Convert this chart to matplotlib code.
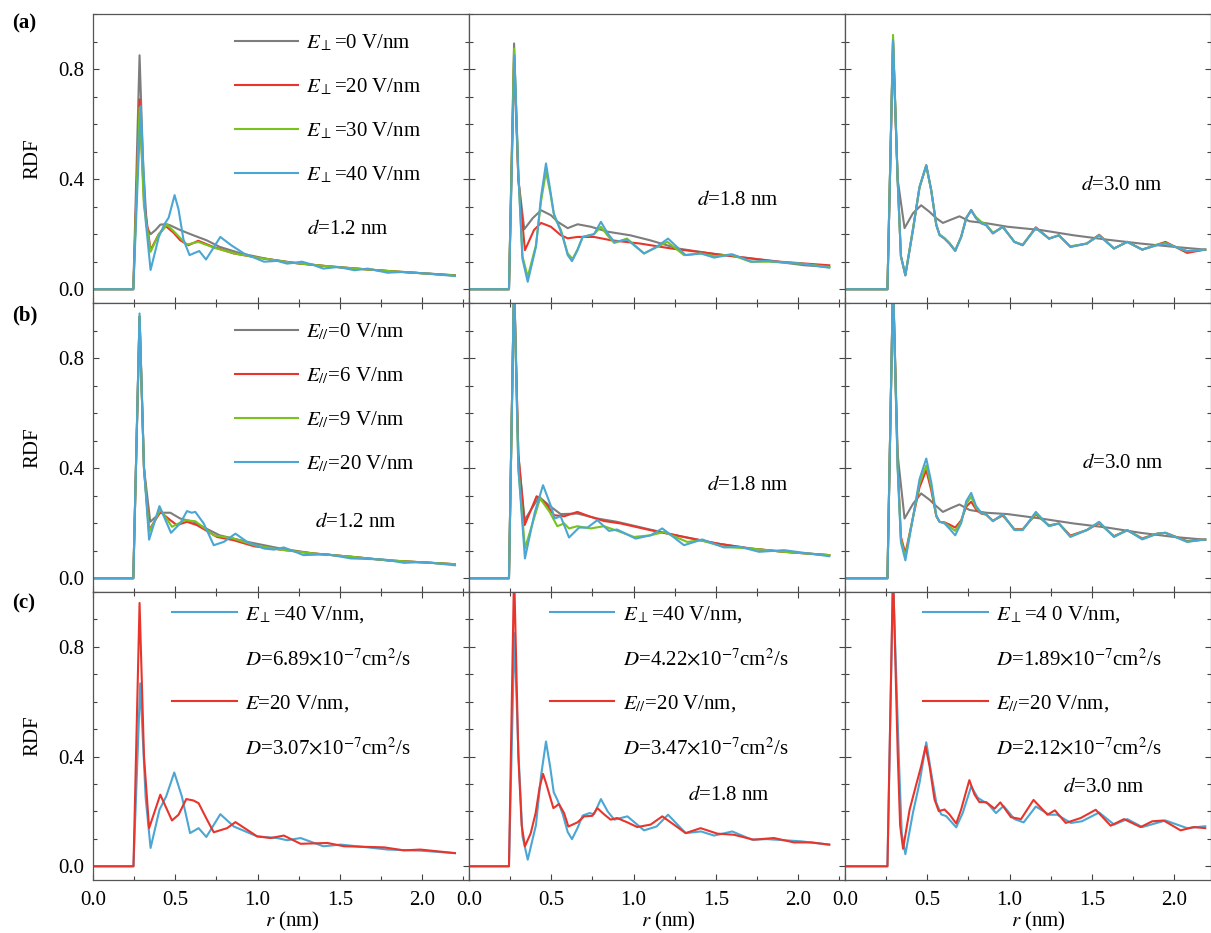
"""
RDF curves of confined water under perpendicular / parallel fields,
three slit widths (d = 1.2, 1.8, 3.0 nm).
"""

import matplotlib
matplotlib.use("Agg")
import matplotlib.pyplot as plt
from matplotlib.lines import Line2D
from matplotlib.ticker import MultipleLocator

plt.rcParams['font.family'] = ['Liberation Serif', 'DejaVu Serif']
plt.rcParams['mathtext.fontset'] = 'stix'
plt.rcParams['font.size'] = 15

# ══════════════════════════════════════════════════════════════
# DATA
# ══════════════════════════════════════════════════════════════

# ---- row (a): E_perp, d = 1.2 nm
r_a1_0 = [0, 0.245, 0.283, 0.305, 0.327, 0.35, 0.38, 0.41, 0.45, 0.47, 0.53, 0.61, 0.69, 0.77, 0.9, 1.06, 1.26, 1.47, 1.67, 1.87, 2.2]
g_a1_0 = [0, 0, 0.85, 0.45, 0.227, 0.20, 0.215, 0.235, 0.236, 0.232, 0.215, 0.196, 0.178, 0.154, 0.13, 0.11, 0.093, 0.081, 0.072, 0.063, 0.051]
r_a1_20 = [0, 0.245, 0.283, 0.31, 0.35, 0.40, 0.443, 0.49, 0.53, 0.58, 0.64, 0.73, 0.856, 1.0, 1.2, 1.4, 1.6, 1.8, 2.0, 2.2]
g_a1_20 = [0, 0, 0.69, 0.32, 0.142, 0.20, 0.229, 0.205, 0.178, 0.16, 0.176, 0.154, 0.13, 0.115, 0.097, 0.085, 0.075, 0.066, 0.058, 0.05]
r_a1_30 = [0, 0.245, 0.283, 0.31, 0.35, 0.40, 0.45, 0.50, 0.57, 0.64, 0.74, 0.86, 1.0, 1.2, 1.4, 1.6, 1.8, 2.0, 2.2]
g_a1_30 = [0, 0, 0.66, 0.30, 0.136, 0.20, 0.235, 0.205, 0.162, 0.172, 0.15, 0.13, 0.115, 0.097, 0.085, 0.075, 0.066, 0.058, 0.05]
r_a1_40 = [0, 0.245, 0.29, 0.32, 0.35, 0.40, 0.433, 0.46, 0.496, 0.52, 0.55, 0.587, 0.646, 0.687, 0.774, 0.84, 0.917, 1.04, 1.12, 1.18, 1.27, 1.33, 1.40, 1.49, 1.59, 1.67, 1.79, 1.89, 2.03, 2.2]
g_a1_40 = [0, 0, 0.665, 0.25, 0.07, 0.19, 0.235, 0.26, 0.342, 0.29, 0.18, 0.124, 0.139, 0.108, 0.19, 0.16, 0.13, 0.10, 0.103, 0.093, 0.10, 0.09, 0.075, 0.081, 0.069, 0.075, 0.06, 0.063, 0.057, 0.048]

# ---- row (a): E_perp, d = 1.8 nm
r_a2_0 = [0, 0.243, 0.274, 0.30, 0.336, 0.387, 0.438, 0.498, 0.539, 0.60, 0.66, 0.741, 0.843, 0.98, 1.10, 1.27, 1.47, 1.63, 1.87, 2.04, 2.19]
g_a2_0 = [0, 0, 0.893, 0.40, 0.218, 0.258, 0.287, 0.269, 0.245, 0.222, 0.236, 0.227, 0.209, 0.196, 0.178, 0.148, 0.13, 0.118, 0.10, 0.087, 0.081]
r_a2_20 = [0, 0.243, 0.274, 0.30, 0.34, 0.395, 0.438, 0.498, 0.559, 0.60, 0.66, 0.76, 0.863, 1.04, 1.23, 1.39, 1.63, 1.89, 2.19]
g_a2_20 = [0, 0, 0.84, 0.40, 0.142, 0.215, 0.241, 0.227, 0.196, 0.185, 0.19, 0.19, 0.178, 0.166, 0.148, 0.136, 0.118, 0.10, 0.087]
r_a2_30 = [0, 0.243, 0.274, 0.30, 0.325, 0.357, 0.407, 0.438, 0.468, 0.494, 0.519, 0.559, 0.60, 0.63, 0.66, 0.691, 0.732, 0.76, 0.802, 0.843, 0.883, 0.96, 1.064, 1.145, 1.206, 1.307, 1.41, 1.49, 1.59, 1.71, 1.83, 2.02, 2.19]
g_a2_30 = [0, 0, 0.875, 0.42, 0.12, 0.045, 0.16, 0.32, 0.427, 0.35, 0.263, 0.215, 0.13, 0.11, 0.145, 0.19, 0.196, 0.20, 0.227, 0.195, 0.168, 0.184, 0.13, 0.154, 0.172, 0.124, 0.13, 0.12, 0.126, 0.10, 0.10, 0.093, 0.081]
r_a2_40 = [0, 0.243, 0.276, 0.30, 0.325, 0.357, 0.407, 0.438, 0.468, 0.494, 0.515, 0.539, 0.57, 0.60, 0.626, 0.66, 0.691, 0.732, 0.76, 0.802, 0.843, 0.883, 0.963, 1.064, 1.14, 1.21, 1.317, 1.41, 1.49, 1.60, 1.72, 1.81, 2.02, 2.19]
g_a2_40 = [0, 0, 0.85, 0.42, 0.11, 0.027, 0.154, 0.336, 0.457, 0.36, 0.276, 0.24, 0.19, 0.124, 0.102, 0.142, 0.19, 0.196, 0.20, 0.245, 0.203, 0.172, 0.18, 0.13, 0.154, 0.184, 0.124, 0.13, 0.115, 0.127, 0.10, 0.103, 0.093, 0.078]

# ---- row (a): E_perp, d = 3.0 nm
r_a3_0 = [0, 0.258, 0.292, 0.32, 0.362, 0.413, 0.463, 0.514, 0.555, 0.595, 0.645, 0.696, 0.757, 0.858, 0.989, 1.19, 1.39, 1.595, 1.797, 1.999, 2.19]
g_a3_0 = [0, 0, 0.90, 0.40, 0.222, 0.276, 0.305, 0.281, 0.258, 0.241, 0.253, 0.265, 0.247, 0.24, 0.227, 0.215, 0.196, 0.18, 0.166, 0.154, 0.144]
r_a3_20 = [0, 0.258, 0.292, 0.32, 0.34, 0.367, 0.413, 0.453, 0.494, 0.524, 0.555, 0.575, 0.605, 0.635, 0.67, 0.706, 0.737, 0.767, 0.797, 0.828, 0.858, 0.899, 0.959, 1.03, 1.08, 1.16, 1.24, 1.30, 1.37, 1.47, 1.545, 1.635, 1.716, 1.807, 1.898, 1.948, 2.08, 2.19]
g_a3_20 = [0, 0, 0.90, 0.40, 0.12, 0.05, 0.215, 0.37, 0.45, 0.36, 0.233, 0.198, 0.184, 0.166, 0.14, 0.19, 0.258, 0.288, 0.258, 0.24, 0.233, 0.203, 0.227, 0.172, 0.16, 0.225, 0.184, 0.196, 0.154, 0.166, 0.198, 0.148, 0.172, 0.144, 0.162, 0.172, 0.132, 0.144]
r_a3_30 = [0, 0.258, 0.292, 0.32, 0.34, 0.367, 0.413, 0.453, 0.494, 0.524, 0.555, 0.575, 0.605, 0.635, 0.67, 0.706, 0.737, 0.767, 0.797, 0.828, 0.858, 0.899, 0.959, 1.03, 1.08, 1.16, 1.24, 1.30, 1.37, 1.47, 1.545, 1.635, 1.716, 1.807, 1.898, 1.948, 2.08, 2.19]
g_a3_30 = [0, 0, 0.924, 0.40, 0.12, 0.053, 0.22, 0.37, 0.448, 0.36, 0.235, 0.198, 0.186, 0.168, 0.141, 0.19, 0.26, 0.285, 0.262, 0.245, 0.236, 0.205, 0.226, 0.172, 0.162, 0.222, 0.184, 0.196, 0.156, 0.166, 0.196, 0.148, 0.172, 0.144, 0.162, 0.168, 0.138, 0.144]
r_a3_40 = [0, 0.258, 0.292, 0.32, 0.34, 0.367, 0.413, 0.453, 0.494, 0.524, 0.555, 0.575, 0.605, 0.635, 0.67, 0.706, 0.737, 0.767, 0.797, 0.828, 0.858, 0.899, 0.959, 1.03, 1.08, 1.16, 1.24, 1.30, 1.37, 1.47, 1.545, 1.635, 1.716, 1.807, 1.898, 1.948, 2.08, 2.19]
g_a3_40 = [0, 0, 0.905, 0.40, 0.12, 0.051, 0.215, 0.372, 0.451, 0.36, 0.233, 0.196, 0.184, 0.166, 0.139, 0.19, 0.258, 0.287, 0.258, 0.24, 0.233, 0.203, 0.227, 0.172, 0.16, 0.223, 0.184, 0.196, 0.154, 0.166, 0.196, 0.148, 0.172, 0.144, 0.16, 0.166, 0.139, 0.144]

# ---- row (b): E_par, d = 1.2 nm
r_b1_0 = [0, 0.245, 0.283, 0.31, 0.348, 0.41, 0.47, 0.53, 0.61, 0.69, 0.77, 0.94, 1.14, 1.34, 1.57, 1.79, 2.2]
g_b1_0 = [0, 0, 0.95, 0.40, 0.205, 0.238, 0.238, 0.217, 0.205, 0.18, 0.156, 0.132, 0.108, 0.09, 0.078, 0.065, 0.051]
r_b1_6 = [0, 0.245, 0.283, 0.31, 0.341, 0.41, 0.47, 0.51, 0.571, 0.632, 0.754, 0.856, 0.98, 1.14, 1.34, 1.57, 1.79, 2.2]
g_b1_6 = [0, 0, 0.95, 0.40, 0.175, 0.241, 0.211, 0.193, 0.205, 0.193, 0.15, 0.138, 0.116, 0.104, 0.09, 0.078, 0.065, 0.051]
r_b1_9 = [0, 0.245, 0.283, 0.31, 0.341, 0.41, 0.48, 0.56, 0.622, 0.734, 0.856, 0.98, 1.14, 1.34, 1.57, 1.79, 2.2]
g_b1_9 = [0, 0, 0.95, 0.40, 0.168, 0.25, 0.187, 0.211, 0.207, 0.156, 0.144, 0.12, 0.104, 0.09, 0.078, 0.065, 0.051]
r_b1_20 = [0, 0.245, 0.283, 0.31, 0.341, 0.404, 0.474, 0.53, 0.571, 0.60, 0.622, 0.673, 0.734, 0.795, 0.866, 0.937, 1.04, 1.10, 1.16, 1.28, 1.425, 1.567, 1.77, 1.89, 2.01, 2.2]
g_b1_20 = [0, 0, 0.962, 0.40, 0.14, 0.262, 0.165, 0.199, 0.244, 0.238, 0.241, 0.199, 0.12, 0.132, 0.162, 0.132, 0.108, 0.104, 0.112, 0.084, 0.087, 0.072, 0.068, 0.056, 0.059, 0.047]

# ---- row (b): E_par, d = 1.8 nm
r_b2_0 = [0, 0.243, 0.274, 0.30, 0.338, 0.426, 0.486, 0.557, 0.659, 0.78, 0.90, 1.10, 1.307, 1.51, 1.71, 1.915, 2.19]
g_b2_0 = [0, 0, 1.08, 0.45, 0.211, 0.296, 0.265, 0.233, 0.235, 0.217, 0.205, 0.177, 0.15, 0.126, 0.108, 0.096, 0.084]
r_b2_6 = [0, 0.243, 0.274, 0.30, 0.338, 0.411, 0.466, 0.517, 0.578, 0.659, 0.74, 0.82, 0.922, 1.10, 1.307, 1.51, 1.71, 1.915, 2.19]
g_b2_6 = [0, 0, 1.08, 0.45, 0.193, 0.298, 0.272, 0.229, 0.225, 0.241, 0.223, 0.208, 0.199, 0.175, 0.15, 0.126, 0.108, 0.096, 0.084]
r_b2_9 = [0, 0.243, 0.274, 0.30, 0.34, 0.432, 0.49, 0.537, 0.578, 0.608, 0.659, 0.74, 0.82, 0.922, 1.003, 1.104, 1.185, 1.327, 1.408, 1.55, 1.71, 1.915, 2.19]
g_b2_9 = [0, 0, 1.08, 0.40, 0.108, 0.29, 0.241, 0.189, 0.199, 0.181, 0.189, 0.181, 0.189, 0.168, 0.15, 0.156, 0.168, 0.132, 0.138, 0.114, 0.108, 0.096, 0.084]
r_b2_20 = [0, 0.243, 0.274, 0.30, 0.34, 0.40, 0.45, 0.50, 0.52, 0.557, 0.608, 0.669, 0.72, 0.78, 0.851, 0.90, 1.013, 1.104, 1.175, 1.307, 1.418, 1.55, 1.65, 1.763, 1.915, 2.19]
g_b2_20 = [0, 0, 1.08, 0.40, 0.072, 0.24, 0.338, 0.259, 0.217, 0.225, 0.148, 0.184, 0.184, 0.211, 0.172, 0.177, 0.144, 0.156, 0.181, 0.12, 0.141, 0.112, 0.114, 0.096, 0.102, 0.08]

# ---- row (b): E_par, d = 3.0 nm
r_b3_0 = [0, 0.258, 0.292, 0.32, 0.362, 0.413, 0.463, 0.514, 0.555, 0.595, 0.645, 0.696, 0.757, 0.858, 0.989, 1.19, 1.39, 1.595, 1.797, 1.999, 2.19]
g_b3_0 = [0, 0, 1.08, 0.45, 0.217, 0.27, 0.308, 0.285, 0.262, 0.241, 0.255, 0.268, 0.248, 0.238, 0.233, 0.217, 0.199, 0.184, 0.165, 0.15, 0.14]
r_b3_6 = [0, 0.258, 0.292, 0.32, 0.34, 0.367, 0.413, 0.453, 0.494, 0.524, 0.555, 0.575, 0.605, 0.635, 0.67, 0.706, 0.737, 0.767, 0.797, 0.828, 0.858, 0.899, 0.959, 1.03, 1.08, 1.16, 1.24, 1.30, 1.37, 1.47, 1.545, 1.635, 1.716, 1.807, 1.898, 1.948, 2.08, 2.19]
g_b3_6 = [0, 0, 1.08, 0.42, 0.15, 0.09, 0.22, 0.33, 0.393, 0.32, 0.225, 0.205, 0.203, 0.195, 0.184, 0.21, 0.26, 0.278, 0.25, 0.235, 0.231, 0.209, 0.228, 0.178, 0.178, 0.232, 0.192, 0.199, 0.155, 0.175, 0.2, 0.153, 0.174, 0.145, 0.162, 0.165, 0.135, 0.141]
r_b3_9 = [0, 0.258, 0.292, 0.32, 0.34, 0.367, 0.413, 0.453, 0.494, 0.524, 0.555, 0.575, 0.605, 0.635, 0.67, 0.706, 0.737, 0.767, 0.797, 0.828, 0.858, 0.899, 0.959, 1.03, 1.08, 1.16, 1.24, 1.30, 1.37, 1.47, 1.545, 1.635, 1.716, 1.807, 1.898, 1.948, 2.08, 2.19]
g_b3_9 = [0, 0, 1.08, 0.41, 0.14, 0.078, 0.22, 0.345, 0.41, 0.335, 0.227, 0.205, 0.201, 0.188, 0.172, 0.205, 0.27, 0.296, 0.256, 0.237, 0.232, 0.208, 0.231, 0.176, 0.176, 0.236, 0.19, 0.199, 0.152, 0.175, 0.203, 0.151, 0.175, 0.143, 0.162, 0.165, 0.133, 0.141]
r_b3_20 = [0, 0.258, 0.292, 0.32, 0.34, 0.367, 0.413, 0.453, 0.494, 0.524, 0.555, 0.575, 0.605, 0.635, 0.67, 0.706, 0.737, 0.767, 0.797, 0.828, 0.858, 0.899, 0.959, 1.03, 1.08, 1.16, 1.24, 1.30, 1.37, 1.47, 1.545, 1.635, 1.716, 1.807, 1.898, 1.948, 2.08, 2.19]
g_b3_20 = [0, 0, 1.08, 0.40, 0.13, 0.065, 0.22, 0.36, 0.435, 0.35, 0.228, 0.205, 0.199, 0.18, 0.156, 0.2, 0.28, 0.31, 0.262, 0.238, 0.233, 0.207, 0.233, 0.175, 0.175, 0.241, 0.189, 0.199, 0.15, 0.175, 0.205, 0.15, 0.175, 0.141, 0.162, 0.165, 0.132, 0.141]

# ---- row (c): E_perp = 40 vs E_par = 20
r_c1_perp = [0, 0.246, 0.287, 0.32, 0.35, 0.404, 0.445, 0.494, 0.54, 0.59, 0.642, 0.689, 0.774, 0.856, 0.998, 1.12, 1.18, 1.262, 1.40, 1.506, 1.669, 1.79, 1.99, 2.2]
g_c1_perp = [0, 0, 0.667, 0.25, 0.067, 0.206, 0.255, 0.342, 0.255, 0.121, 0.139, 0.107, 0.19, 0.145, 0.109, 0.103, 0.095, 0.103, 0.073, 0.079, 0.069, 0.061, 0.057, 0.048]
r_c1_par = [0, 0.246, 0.283, 0.31, 0.341, 0.409, 0.48, 0.52, 0.567, 0.61, 0.642, 0.693, 0.734, 0.815, 0.866, 0.937, 0.998, 1.08, 1.16, 1.262, 1.425, 1.526, 1.77, 1.89, 1.99, 2.2]
g_c1_par = [0, 0, 0.96, 0.40, 0.139, 0.261, 0.167, 0.188, 0.245, 0.24, 0.23, 0.17, 0.124, 0.139, 0.161, 0.133, 0.109, 0.103, 0.112, 0.082, 0.085, 0.073, 0.069, 0.058, 0.061, 0.048]

r_c2_perp = [0, 0.243, 0.276, 0.30, 0.325, 0.357, 0.407, 0.438, 0.468, 0.494, 0.515, 0.539, 0.57, 0.60, 0.626, 0.66, 0.691, 0.732, 0.76, 0.802, 0.843, 0.883, 0.963, 1.064, 1.14, 1.21, 1.317, 1.41, 1.49, 1.60, 1.72, 1.81, 2.02, 2.19]
g_c2_perp = [0, 0, 0.85, 0.42, 0.11, 0.024, 0.15, 0.33, 0.455, 0.36, 0.27, 0.24, 0.19, 0.125, 0.099, 0.14, 0.185, 0.194, 0.19, 0.245, 0.2, 0.17, 0.182, 0.131, 0.145, 0.188, 0.121, 0.127, 0.112, 0.127, 0.097, 0.099, 0.091, 0.079]
r_c2_par = [0, 0.243, 0.274, 0.30, 0.32, 0.34, 0.375, 0.405, 0.43, 0.45, 0.47, 0.486, 0.513, 0.547, 0.578, 0.604, 0.659, 0.70, 0.75, 0.78, 0.82, 0.861, 0.90, 0.963, 1.023, 1.104, 1.175, 1.25, 1.317, 1.408, 1.51, 1.61, 1.73, 1.854, 1.976, 2.08, 2.19]
g_c2_par = [0, 0, 1.08, 0.40, 0.15, 0.073, 0.12, 0.194, 0.29, 0.337, 0.30, 0.267, 0.212, 0.227, 0.194, 0.145, 0.16, 0.182, 0.184, 0.212, 0.19, 0.17, 0.176, 0.16, 0.143, 0.152, 0.182, 0.15, 0.121, 0.139, 0.119, 0.115, 0.097, 0.103, 0.087, 0.087, 0.079]

r_c3_perp = [0, 0.258, 0.292, 0.33, 0.345, 0.367, 0.413, 0.453, 0.494, 0.524, 0.555, 0.585, 0.615, 0.676, 0.716, 0.767, 0.807, 0.838, 0.868, 0.918, 0.964, 1.03, 1.086, 1.16, 1.241, 1.29, 1.373, 1.44, 1.545, 1.636, 1.716, 1.807, 1.948, 2.08, 2.19]
g_c3_perp = [0, 0, 1.05, 0.35, 0.12, 0.044, 0.195, 0.304, 0.452, 0.34, 0.232, 0.189, 0.183, 0.142, 0.195, 0.291, 0.25, 0.238, 0.228, 0.194, 0.22, 0.172, 0.16, 0.218, 0.188, 0.188, 0.158, 0.164, 0.196, 0.152, 0.172, 0.143, 0.167, 0.139, 0.146]
r_c3_par = [0, 0.258, 0.292, 0.32, 0.335, 0.353, 0.393, 0.433, 0.463, 0.49, 0.514, 0.544, 0.57, 0.605, 0.635, 0.676, 0.706, 0.737, 0.756, 0.787, 0.817, 0.858, 0.909, 0.944, 1.009, 1.07, 1.146, 1.231, 1.276, 1.342, 1.433, 1.524, 1.615, 1.696, 1.797, 1.868, 1.937, 2.04, 2.12, 2.19]
g_c3_par = [0, 0, 1.08, 0.42, 0.15, 0.064, 0.207, 0.298, 0.365, 0.437, 0.365, 0.244, 0.201, 0.207, 0.189, 0.156, 0.207, 0.274, 0.314, 0.262, 0.234, 0.234, 0.21, 0.233, 0.179, 0.172, 0.242, 0.188, 0.204, 0.158, 0.176, 0.206, 0.148, 0.172, 0.143, 0.164, 0.167, 0.131, 0.143, 0.139]

# labels
perp_labels = [r'$E_{\perp}$=0 V/nm', r'$E_{\perp}$=20 V/nm', r'$E_{\perp}$=30 V/nm', r'$E_{\perp}$=40 V/nm']
par_labels = [r'$E_{//}$=0 V/nm', r'$E_{//}$=6 V/nm', r'$E_{//}$=9 V/nm', r'$E_{//}$=20 V/nm']
c_labels = [
    [r'$E_{\perp}$=40 V/nm,', r'$D$=6.89$\times$10$^{-7}$cm$^{2}$/s', r'$E$=20 V/nm,', r'$D$=3.07$\times$10$^{-7}$cm$^{2}$/s'],
    [r'$E_{\perp}$=40 V/nm,', r'$D$=4.22$\times$10$^{-7}$cm$^{2}$/s', r'$E_{//}$=20 V/nm,', r'$D$=3.47$\times$10$^{-7}$cm$^{2}$/s'],
    [r'$E_{\perp}$=4 0 V/nm,', r'$D$=1.89$\times$10$^{-7}$cm$^{2}$/s', r'$E_{//}$=20 V/nm,', r'$D$=2.12$\times$10$^{-7}$cm$^{2}$/s'],
]
d_labels = [r'$d$=1.2 nm', r'$d$=1.8 nm', r'$d$=3.0 nm']

GRAY, RED, GREEN, BLUE = '#7d7d7d', '#e8352c', '#78c31e', '#4ba6d4'

# ══════════════════════════════════════════════════════════════
# LAYOUT (pixel geometry of the original figure)
# ══════════════════════════════════════════════════════════════
W, H = 1211, 933
col_left = [93, 469, 845]
col_width = [376, 376, 366]
row_top = [14, 303, 592]
row_height = [289, 289, 288]
PX_PER_NM = 164.5

fig = plt.figure(figsize=(W / 100, H / 100), dpi=100)
axes = [[None] * 3 for _ in range(3)]
for i in range(3):
    for j in range(3):
        ax = fig.add_axes([col_left[j] / W, 1 - (row_top[i] + row_height[i]) / H,
                           col_width[j] / W, row_height[i] / H])
        ax.set_xlim(0, col_width[j] / PX_PER_NM)
        ax.set_ylim(-0.05, 1.0)
        ax.xaxis.set_major_locator(MultipleLocator(0.5))
        ax.xaxis.set_minor_locator(MultipleLocator(0.25))
        ax.yaxis.set_major_locator(MultipleLocator(0.4))
        ax.yaxis.set_minor_locator(MultipleLocator(0.1))
        ax.tick_params(which='both', direction='in', top=(i > 0), right=True,
                       labelsize=15, color='#444444')
        ax.tick_params(which='major', length=4.5, width=0.8)
        ax.tick_params(which='minor', length=3, width=0.8)
        ax.tick_params(axis='x', pad=8)
        ax.tick_params(axis='y', pad=6)
        for s in ax.spines.values():
            s.set_color('#555555')
            s.set_linewidth(0.9)
        if j > 0:
            ax.set_yticklabels([])
        else:
            ax.set_ylabel('RDF', fontsize=15, labelpad=12)
        if i < 2:
            ax.set_xticklabels([])
        else:
            ax.set_xlabel(r'$r$ (nm)', fontsize=15, labelpad=0, x=0.53)
        axes[i][j] = ax

LW = 1.5

a_data = [
    [(r_a1_0, g_a1_0), (r_a1_20, g_a1_20), (r_a1_30, g_a1_30), (r_a1_40, g_a1_40)],
    [(r_a2_0, g_a2_0), (r_a2_20, g_a2_20), (r_a2_30, g_a2_30), (r_a2_40, g_a2_40)],
    [(r_a3_0, g_a3_0), (r_a3_20, g_a3_20), (r_a3_30, g_a3_30), (r_a3_40, g_a3_40)],
]
b_data = [
    [(r_b1_0, g_b1_0), (r_b1_6, g_b1_6), (r_b1_9, g_b1_9), (r_b1_20, g_b1_20)],
    [(r_b2_0, g_b2_0), (r_b2_6, g_b2_6), (r_b2_9, g_b2_9), (r_b2_20, g_b2_20)],
    [(r_b3_0, g_b3_0), (r_b3_6, g_b3_6), (r_b3_9, g_b3_9), (r_b3_20, g_b3_20)],
]
c_data = [
    [(r_c1_perp, g_c1_perp), (r_c1_par, g_c1_par)],
    [(r_c2_perp, g_c2_perp), (r_c2_par, g_c2_par)],
    [(r_c3_perp, g_c3_perp), (r_c3_par, g_c3_par)],
]

# ── rows (a) and (b)
colors4 = [GRAY, RED, GREEN, BLUE]
for row, data, labels in [(0, a_data, perp_labels), (1, b_data, par_labels)]:
    for j in range(3):
        ax = axes[row][j]
        lines = []
        for (r, g), c, lab in zip(data[j], colors4, labels):
            ln, = ax.plot(r, g, color=c, lw=LW, label=lab)
            lines.append(ln)
        if j == 0:
            ax.legend(lines, labels, loc='upper left', bbox_to_anchor=(0.378, 0.937),
                      frameon=False, fontsize=15, handlelength=3.0, handletextpad=0.4,
                      labelspacing=1.12, borderpad=0, borderaxespad=0)

# ── row (c)
c_x0 = [0.21, 0.215, 0.213]
for j in range(3):
    ax = axes[2][j]
    (rp, gp), (rq, gq) = c_data[j]
    l1, = ax.plot(rp, gp, color=BLUE, lw=LW)
    l2, = ax.plot(rq, gq, color=RED, lw=LW)
    blank = Line2D([], [], color='none')
    ax.legend([l1, blank, l2, blank], c_labels[j], loc='upper left',
              bbox_to_anchor=(c_x0[j], 0.958), frameon=False, fontsize=15,
              handlelength=3.1, handletextpad=0.4, labelspacing=1.12,
              borderpad=0, borderaxespad=0)

# ── d annotations
d_pos = {
    (0, 0): (0.569, 0.253), (0, 1): (0.606, 0.356), (0, 2): (0.645, 0.405),
    (1, 0): (0.590, 0.242), (1, 1): (0.633, 0.367), (1, 2): (0.648, 0.443),
    (2, 1): (0.582, 0.295), (2, 2): (0.596, 0.320),
}
for (i, j), (x, y) in d_pos.items():
    axes[i][j].text(x, y, d_labels[j], transform=axes[i][j].transAxes,
                    fontsize=15, va='center', ha='left')

# ── panel tags
for tag, ytop in [('(a)', 23), ('(b)', 315), ('(c)', 603)]:
    fig.text(12 / W, 1 - ytop / H, tag, fontsize=15, fontweight='bold',
             va='center', ha='left')

plt.savefig('out.png', dpi=100)
plt.close()
